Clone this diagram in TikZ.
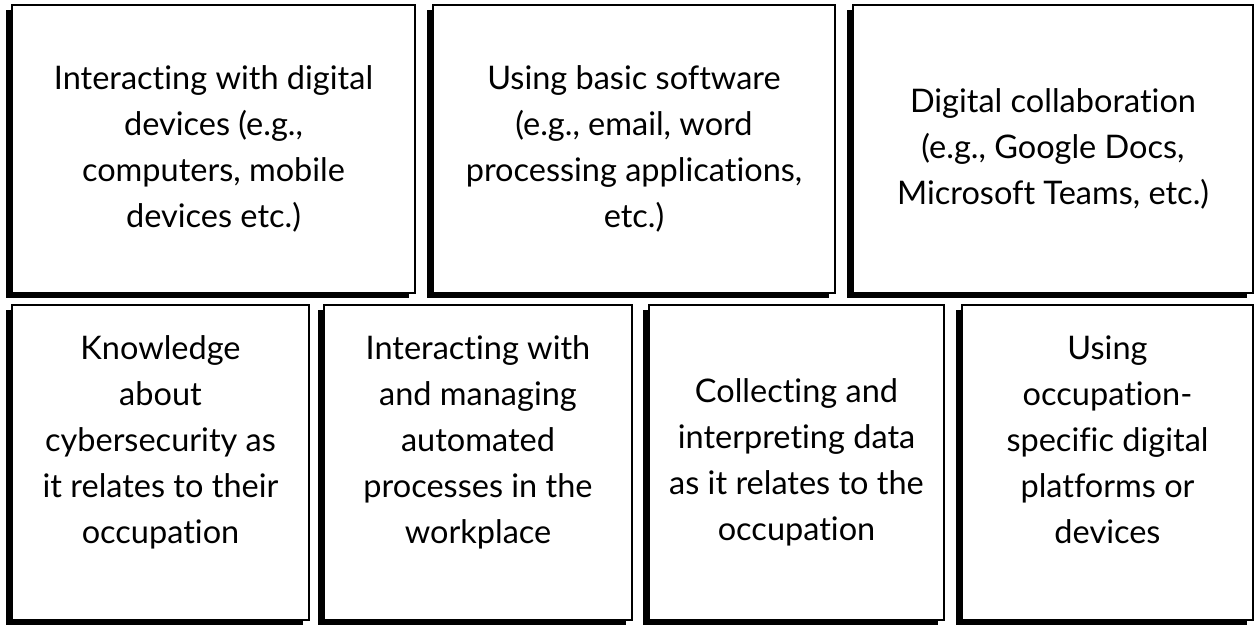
\documentclass[tikz,border=0pt]{standalone}
\usepackage{fontspec}
\setmainfont[Ligatures=NoCommon]{Lato}
\usetikzlibrary{shadows}

\begin{document}
\begin{tikzpicture}[x=1pt,y=-1pt]
    % Setup the style for the boxes
        \tikzset{skill box/.style={draw=black,
                                   line width=1.3pt,
                                   fill=white,
                                   align=center,
                                   inner sep=0pt,
                                   font=\fontsize{32.5}{46}\selectfont,
                                   drop shadow={shadow xshift=-6pt,
                                                shadow yshift=-5pt,
                                                fill=black,
                                                opacity=1}}}
        \useasboundingbox (0,0) rectangle (1255,625);
        % Top row
        \node[skill box, minimum width=403pt, minimum height=288pt] at (213.5, 149) (devices)
            {Interacting with digital\\devices (e.g.,\\computers, mobile\\devices etc.)};
        \node[skill box, minimum width=402pt, minimum height=288pt] at (634, 149) (software)
            {Using basic software\\(e.g., email, word\\processing applications,\\etc.)};
        \node[skill box, minimum width=400pt, minimum height=288pt] at (1053, 149) (collab)
            {Digital collaboration\\(e.g., Google Docs,\\Microsoft Teams, etc.)};
        % Bottom row
        \node[skill box, minimum width=297pt, minimum height=315pt] at (160.5, 462.5) (cyber)
            {Knowledge\\about\\cybersecurity as\\it relates to their\\occupation\\\mbox{}};
        \node[skill box, minimum width=308pt, minimum height=315pt] at (478, 462.5) (automation)
            {Interacting with\\and managing\\automated\\processes in the\\workplace\\\mbox{}};
        \node[skill box, minimum width=295pt, minimum height=315pt] at (796.5, 462.5) (data)
            {Collecting and\\interpreting data\\as it relates to the\\occupation};
        \node[skill box, minimum width=291pt, minimum height=315pt] at (1107.5, 462.5) (platforms)
            {Using\\occupation-\\specific digital\\platforms or\\devices\\\mbox{}};
\end{tikzpicture}
\end{document}
